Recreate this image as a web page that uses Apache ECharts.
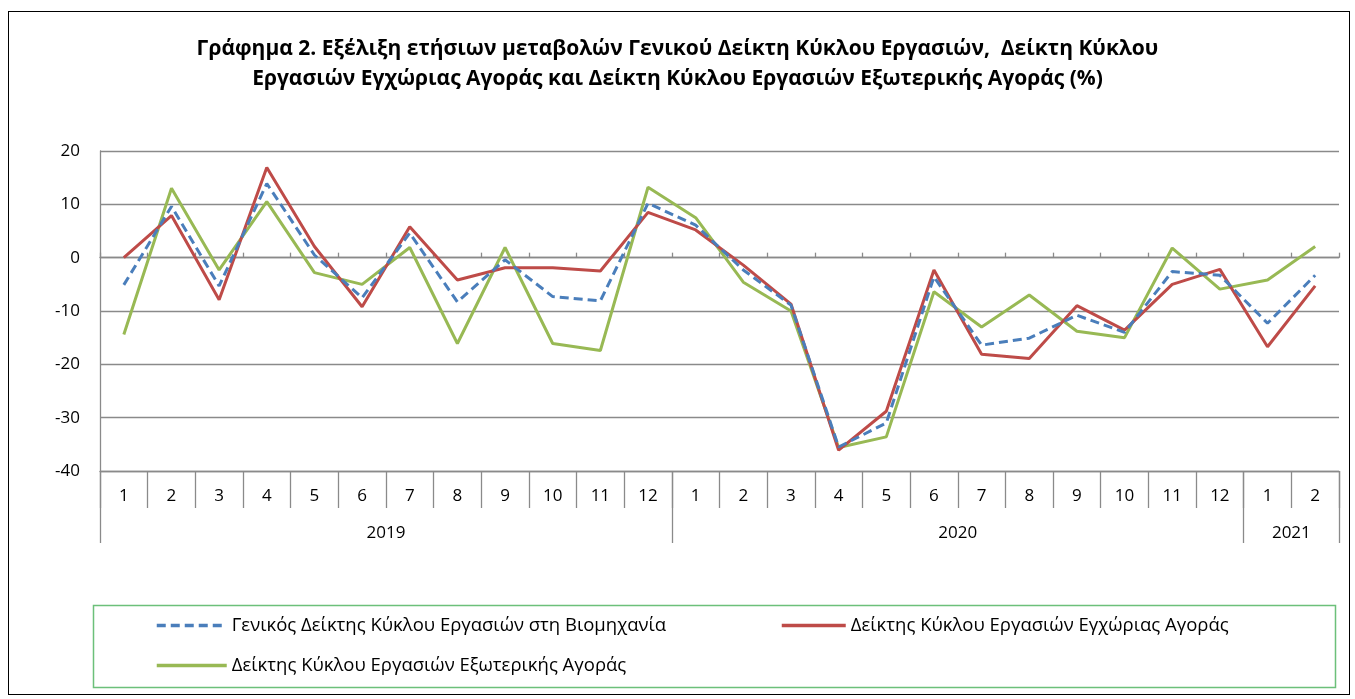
<!DOCTYPE html>
<html>
<head>
<meta charset="utf-8">
<script src="https://cdn.jsdelivr.net/npm/echarts@6/dist/echarts.min.js"></script>
<style>
  html, body { margin: 0; padding: 0; background: #fff; }
  #chart { width: 1355px; height: 699px; }
  #frame { position: absolute; left: 8px; top: 11px; width: 1342px; height: 684px; border: 1.5px solid #000; pointer-events: none; box-sizing: border-box; }
</style>
</head>
<body>
<div id="chart"></div>
<div id="frame"></div>
<script>
// ---- data ----
const months = ['1','2','3','4','5','6','7','8','9','10','11','12',
                '1','2','3','4','5','6','7','8','9','10','11','12',
                '1','2'];
const years = ['2019', '2020', '2021'];
const yearSpans = [12, 12, 2];

const seriesNames = [
  'Γενικός Δείκτης Κύκλου Εργασιών στη Βιομηχανία',
  'Δείκτης Κύκλου Εργασιών Εγχώριας Αγοράς',
  'Δείκτης Κύκλου Εργασιών Εξωτερικής Αγοράς'
];
const generalIndex = [-5.1, 9.6, -5.3, 13.9, 0.5, -7.5, 4.6, -8.3, -0.4, -7.3, -8.1, 10.2,
                      6.1, -2.3, -8.9, -35.5, -31.0, -3.6, -16.4, -15.1, -10.8, -14.0, -2.6, -3.3,
                      -12.3, -3.3];
const domesticIndex = [0.0, 7.9, -7.9, 16.9, 2.1, -9.2, 5.8, -4.2, -1.9, -1.9, -2.5, 8.5,
                       5.2, -1.4, -8.7, -36.1, -28.8, -2.3, -18.1, -18.9, -9.0, -13.6, -5.0, -2.2,
                       -16.7, -5.3];
const externalIndex = [-14.4, 13.0, -2.3, 10.5, -2.8, -5.0, 1.9, -16.1, 1.9, -16.1, -17.4, 13.2,
                       7.5, -4.6, -10.0, -35.6, -33.6, -6.4, -13.0, -7.0, -13.8, -15.0, 1.8, -5.9,
                       -4.2, 2.1];
const yTicks = { min: -40, max: 20, interval: 10 };

// ---- derived ----
const yearCenters = {};
const yearStarts = {};
let acc = 0;
years.forEach((y, i) => {
  yearStarts[acc] = true;
  yearCenters[acc + yearSpans[i] / 2] = y;
  acc += yearSpans[i];
});
const total = acc;

const FONT = '"Open Sans", "Noto Sans", sans-serif';
const GRID_COLOR = '#8a8a8a';
const LEGEND_TEXT = { fontFamily: FONT, fontSize: 18.5, color: '#000' };
const LEGEND_LINE = { width: 3.5 };

const chart = echarts.init(document.getElementById('chart'), null, { renderer: 'canvas' });

const option = {
  backgroundColor: '#fff',
  animation: false,
  title: {
    text: 'Γράφημα 2. Εξέλιξη ετήσιων μεταβολών Γενικού Δείκτη Κύκλου Εργασιών,  Δείκτη Κύκλου\nΕργασιών Εγχώριας Αγοράς και Δείκτη Κύκλου Εργασιών Εξωτερικής Αγοράς (%)',
    left: 'center',
    top: 29,
    textStyle: { fontFamily: FONT, fontSize: 21, fontWeight: 'bold', color: '#000', lineHeight: 30 }
  },
  grid: { left: 100, right: 16, top: 151, bottom: 228, containLabel: false },
  legend: [
    {
      data: [seriesNames[0]], left: 150, top: 611, itemWidth: 70, itemHeight: 20, itemGap: 10,
      itemStyle: { opacity: 0 }, lineStyle: LEGEND_LINE, textStyle: LEGEND_TEXT
    },
    {
      data: [seriesNames[1]], left: 775, top: 611, itemWidth: 64, itemHeight: 20, itemGap: 10,
      itemStyle: { opacity: 0 }, lineStyle: LEGEND_LINE, textStyle: LEGEND_TEXT
    },
    {
      data: [seriesNames[2]], left: 150, top: 651, itemWidth: 70, itemHeight: 20, itemGap: 10,
      itemStyle: { opacity: 0 }, lineStyle: LEGEND_LINE, textStyle: LEGEND_TEXT
    }
  ],
  graphic: [
    {
      type: 'rect', left: 91, top: 603, silent: true,
      shape: { width: 1242, height: 82 },
      style: { fill: 'none', stroke: '#6cc07a', lineWidth: 1.5 }
    }
  ],
  xAxis: [
    { // month labels at bottom
      type: 'category', data: months, position: 'bottom', boundaryGap: true,
      axisLine: { onZero: false, lineStyle: { color: GRID_COLOR, width: 1.3 } },
      axisTick: { show: true, length: 37, lineStyle: { color: GRID_COLOR, width: 1.3 } },
      axisLabel: { margin: 17, fontFamily: FONT, fontSize: 17, color: '#000', interval: 0 },
      splitLine: { show: false }
    },
    { // year separators
      type: 'category', data: months, position: 'bottom', boundaryGap: true,
      axisLine: { show: false, onZero: false },
      axisTick: { show: true, length: 72, interval: (idx) => !!yearStarts[idx], lineStyle: { color: GRID_COLOR, width: 1.3 } },
      axisLabel: { show: false },
      splitLine: { show: false }
    },
    { // year labels
      type: 'value', min: 0, max: total, interval: 1, position: 'bottom',
      axisLine: { show: false, onZero: false },
      axisTick: { show: false },
      splitLine: { show: false },
      axisLabel: {
        margin: 54, fontFamily: FONT, fontSize: 17, color: '#000',
        showMinLabel: true, showMaxLabel: true,
        formatter: (v) => yearCenters[v] || ''
      }
    },
    { // zero crossing line with small inside ticks
      type: 'category', data: months, position: 'bottom', boundaryGap: true,
      axisLine: { show: true, onZero: true, lineStyle: { color: GRID_COLOR, width: 1.3 } },
      axisTick: { show: true, inside: true, length: 5, lineStyle: { color: GRID_COLOR, width: 1.3 } },
      axisLabel: { show: false },
      splitLine: { show: false }
    }
  ],
  yAxis: {
    type: 'value', min: yTicks.min, max: yTicks.max, interval: yTicks.interval,
    axisLine: { show: true, lineStyle: { color: GRID_COLOR, width: 1.3 } },
    axisTick: { show: false },
    axisLabel: { margin: 20, fontFamily: FONT, fontSize: 17, color: '#000' },
    splitLine: { show: true, lineStyle: { color: GRID_COLOR, width: 1.3 } }
  },
  series: [
    {
      name: seriesNames[0], type: 'line', data: generalIndex, xAxisIndex: 0, yAxisIndex: 0,
      symbol: 'none', z: 4,
      lineStyle: { color: '#4a7ebb', width: 3, type: [9, 5] },
      itemStyle: { color: '#4a7ebb' }
    },
    {
      name: seriesNames[1], type: 'line', data: domesticIndex, xAxisIndex: 0, yAxisIndex: 0,
      symbol: 'none', z: 3,
      lineStyle: { color: '#be4b48', width: 3 },
      itemStyle: { color: '#be4b48' }
    },
    {
      name: seriesNames[2], type: 'line', data: externalIndex, xAxisIndex: 0, yAxisIndex: 0,
      symbol: 'none', z: 2,
      lineStyle: { color: '#98b954', width: 3 },
      itemStyle: { color: '#98b954' }
    }
  ]
};
chart.setOption(option);
</script>
</body>
</html>
